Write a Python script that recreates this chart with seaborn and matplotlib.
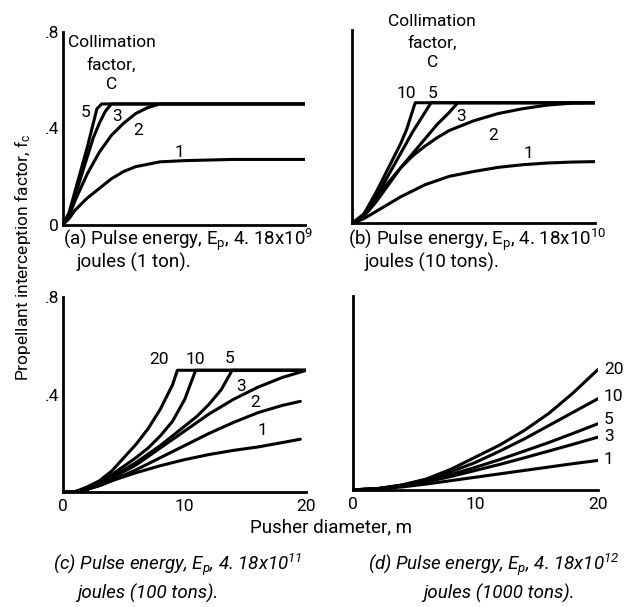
import matplotlib
matplotlib.use("Agg")
import matplotlib.pyplot as plt
import numpy as np
import pandas as pd
import seaborn as sns

sns.set_style("white")
plt.rcParams['font.family'] = ['Roboto', 'DejaVu Sans']
plt.rcParams['mathtext.default'] = 'regular'
plt.rcParams['text.color'] = 'black'
plt.rcParams['xtick.color'] = 'black'
plt.rcParams['ytick.color'] = 'black'

###############################################################################
# Data: pusher diameter (m) vs interception factor f_c

# (a) 1 ton
a_x = {
    '5': [0, 0.5, 1, 1.5, 2, 2.5, 2.8, 3.2, 20],
    '3': [0, 0.5, 1, 1.5, 2, 2.5, 3, 3.5, 4, 20],
    '2': [0, 0.5, 1, 2, 3, 4, 5, 6, 7, 8, 20],
    '1': [0, 0.5, 1, 2, 3, 4, 5, 6, 7, 8, 10, 14, 20],
}
a_y = {
    '5': [0, 0.05, 0.14, 0.23, 0.32, 0.42, 0.48, 0.5, 0.5],
    '3': [0, 0.04, 0.12, 0.2, 0.28, 0.36, 0.42, 0.47, 0.5, 0.5],
    '2': [0, 0.035, 0.1, 0.21, 0.3, 0.37, 0.42, 0.46, 0.485, 0.5, 0.5],
    '1': [0, 0.025, 0.06, 0.11, 0.15, 0.19, 0.22, 0.24, 0.25, 0.26, 0.265, 0.27, 0.27],
}

# (b) 10 tons
b_x = {
    '10': [0, 0.5, 1, 2, 3, 4, 4.5, 5.2, 20],
    '5': [0, 1, 2, 3, 4, 5, 6, 6.5, 20],
    '3': [0, 1, 2, 3, 4, 5, 6, 7, 8, 8.7, 20],
    '2': [0, 1, 2, 3, 4, 5, 6, 7, 8, 10, 12, 14, 16, 18, 20],
    '1': [0, 1, 2, 4, 6, 8, 10, 12, 14, 16, 18, 20],
}
b_y = {
    '10': [0, 0.01, 0.04, 0.13, 0.23, 0.33, 0.39, 0.5, 0.5],
    '5': [0, 0.035, 0.11, 0.2, 0.29, 0.38, 0.46, 0.5, 0.5],
    '3': [0, 0.03, 0.09, 0.16, 0.23, 0.29, 0.35, 0.41, 0.46, 0.5, 0.5],
    '2': [0, 0.04, 0.11, 0.17, 0.23, 0.28, 0.32, 0.355, 0.385, 0.425, 0.455, 0.475, 0.49, 0.498, 0.5],
    '1': [0, 0.02, 0.05, 0.11, 0.16, 0.195, 0.215, 0.232, 0.243, 0.25, 0.254, 0.256],
}

# (c) 100 tons
c_x = {
    '20': [0, 1, 2, 3, 4, 5, 6, 7, 8, 9, 9.4, 20],
    '10': [0, 1, 2, 3, 4, 5, 6, 7, 8, 9, 10, 10.9, 20],
    '5': [0, 1, 2, 3, 4, 5, 6, 7, 8, 9, 10, 11, 12, 13, 13.9, 20],
    '3': [0, 1, 2, 3, 4, 6, 8, 10, 12, 14, 16, 18, 20],
    '2': [0, 1, 2, 3, 4, 6, 8, 10, 12, 14, 16, 18, 19.5],
    '1': [0, 1, 2, 3, 4, 6, 8, 10, 12, 14, 16, 18, 19.5],
}
c_y = {
    '20': [0, 0, 0.02, 0.045, 0.085, 0.14, 0.195, 0.26, 0.34, 0.44, 0.5, 0.5],
    '10': [0, 0, 0.015, 0.04, 0.07, 0.105, 0.14, 0.18, 0.23, 0.29, 0.38, 0.5, 0.5],
    '5': [0, 0, 0.01, 0.03, 0.06, 0.09, 0.12, 0.155, 0.19, 0.23, 0.27, 0.31, 0.36, 0.42, 0.5, 0.5],
    '3': [0, 0, 0.01, 0.03, 0.055, 0.11, 0.18, 0.25, 0.32, 0.38, 0.43, 0.47, 0.5],
    '2': [0, 0, 0.01, 0.025, 0.045, 0.09, 0.14, 0.19, 0.24, 0.285, 0.325, 0.355, 0.372],
    '1': [0, 0, 0.01, 0.025, 0.045, 0.078, 0.107, 0.132, 0.153, 0.17, 0.184, 0.202, 0.216],
}

# (d) 1000 tons
d_x = [0, 2, 4, 6, 8, 10, 12, 14, 16, 18, 20]
d_y = {
    '20': [0, 0.005, 0.02, 0.045, 0.085, 0.135, 0.185, 0.245, 0.315, 0.4, 0.495],
    '10': [0, 0.005, 0.02, 0.042, 0.075, 0.113, 0.16, 0.21, 0.265, 0.32, 0.375],
    '5': [0, 0.005, 0.018, 0.037, 0.063, 0.093, 0.125, 0.16, 0.195, 0.233, 0.272],
    '3': [0, 0.005, 0.016, 0.033, 0.055, 0.08, 0.105, 0.132, 0.16, 0.188, 0.217],
    '1': [0, 0.004, 0.012, 0.024, 0.038, 0.052, 0.066, 0.08, 0.094, 0.108, 0.121],
}

# curve label positions (data coords)
a_lab = {'5': (1.9, 0.465), '3': (4.5, 0.45), '2': (6.2, 0.39), '1': (9.6, 0.30)}
b_lab = {'10': (4.5, 0.54), '5': (6.6, 0.54), '3': (9.0, 0.445), '2': (11.6, 0.363), '1': (14.5, 0.29)}
c_lab = {'20': (7.9, 0.544), '10': (10.9, 0.544), '5': (13.7, 0.55), '3': (14.6, 0.434),
         '2': (15.8, 0.368), '1': (16.4, 0.25)}
d_lab = {'20': (20.5, 0.495), '10': (20.5, 0.385), '5': (20.5, 0.29), '3': (20.5, 0.22), '1': (20.5, 0.124)}

captions = [
    ("(a) Pulse energy, E$_p$, 4. 18x10$^9$", "joules (1 ton).", 'normal'),
    ("(b) Pulse energy, E$_p$, 4. 18x10$^{10}$", "joules (10 tons).", 'normal'),
    ("(c) Pulse energy, E$_p$, 4. 18x10$^{11}$", "joules (100 tons).", 'italic'),
    ("(d) Pulse energy, E$_p$, 4. 18x10$^{12}$", "joules (1000 tons).", 'italic'),
]

###############################################################################
fig = plt.figure(figsize=(6.24, 6.07), dpi=100)

rects = [(0.101, 0.630, 0.388, 0.318), (0.564, 0.632, 0.390, 0.318),
         (0.101, 0.190, 0.390, 0.320), (0.566, 0.193, 0.392, 0.320)]
axs = [fig.add_axes(r) for r in rects]

fs = 12.5
cap_fs = 13.5
lw = 2.2


def draw_curves(ax, xs, ys, labels):
    for key, yv in ys.items():
        xv = xs[key] if isinstance(xs, dict) else xs
        sns.lineplot(x=xv, y=yv, ax=ax, color='black', lw=lw, estimator=None, sort=False)
    for key, (lx, ly) in labels.items():
        ax.text(lx, ly, key, fontsize=fs, ha='left' if lx > 20 else 'center',
                va='center', clip_on=False)


draw_curves(axs[0], a_x, a_y, a_lab)
draw_curves(axs[1], b_x, b_y, b_lab)
draw_curves(axs[2], c_x, c_y, c_lab)
draw_curves(axs[3], d_x, d_y, d_lab)

for i, ax in enumerate(axs):
    ax.set_xlim(0, 20)
    ax.set_ylim(0, 0.8)
    for s in ['top', 'right']:
        ax.spines[s].set_visible(False)
    for s in ['left', 'bottom']:
        ax.spines[s].set_linewidth(2)
        ax.spines[s].set_color('black')
    ax.set_xticks([0, 10, 20])
    ax.set_yticks([0, 0.4, 0.8])
    ax.tick_params(axis='y', direction='in', length=14, width=1.6, pad=3, labelsize=fs)
    ax.tick_params(axis='x', direction='in', length=16, width=1.6, pad=5, labelsize=fs)
    ax.set_xlabel('')
    ax.set_ylabel('')
    ax.grid(False)
    ax.patch.set_alpha(0)

# tick labels as in the original
axs[0].set_yticklabels(['0', '.4', '.8'])
axs[0].set_xticklabels([])
axs[1].set_yticklabels([])
axs[1].set_xticklabels([])
axs[2].set_yticklabels(['', '.4', '.8'])
axs[2].set_xticklabels(['0', '10', '20'])
axs[3].set_yticklabels([])
axs[3].set_xticklabels(['0', '10', '20'])

# collimation factor headings
for ax, cx, cy in [(axs[0], 4.0, [0.755, 0.66, 0.58]), (axs[1], 6.6, [0.837, 0.745, 0.665])]:
    for txt, yy in zip(['Collimation', 'factor,', 'C'], cy):
        ax.text(cx, yy, txt, fontsize=fs, ha='center', va='center', clip_on=False)

# captions
cap_pos = [(0.101, 0.122, 0.605, 0.567), (0.558, 0.585, 0.605, 0.567),
           (0.085, 0.123, 0.069, 0.023), (0.590, 0.678, 0.069, 0.023)]
for (l1, l2, style), (x1, x2, y1, y2) in zip(captions, cap_pos):
    fig.text(x1, y1, l1, fontsize=cap_fs, style=style, ha='left', va='center')
    fig.text(x2, y2, l2, fontsize=cap_fs, style=style, ha='left', va='center')

fig.text(0.036, 0.577, 'Propellant interception factor, f$_c$', rotation=90,
         fontsize=fs, ha='center', va='center')
fig.text(0.530, 0.132, 'Pusher diameter, m', fontsize=cap_fs, ha='center', va='center')

fig.savefig('out.png', dpi=100)
